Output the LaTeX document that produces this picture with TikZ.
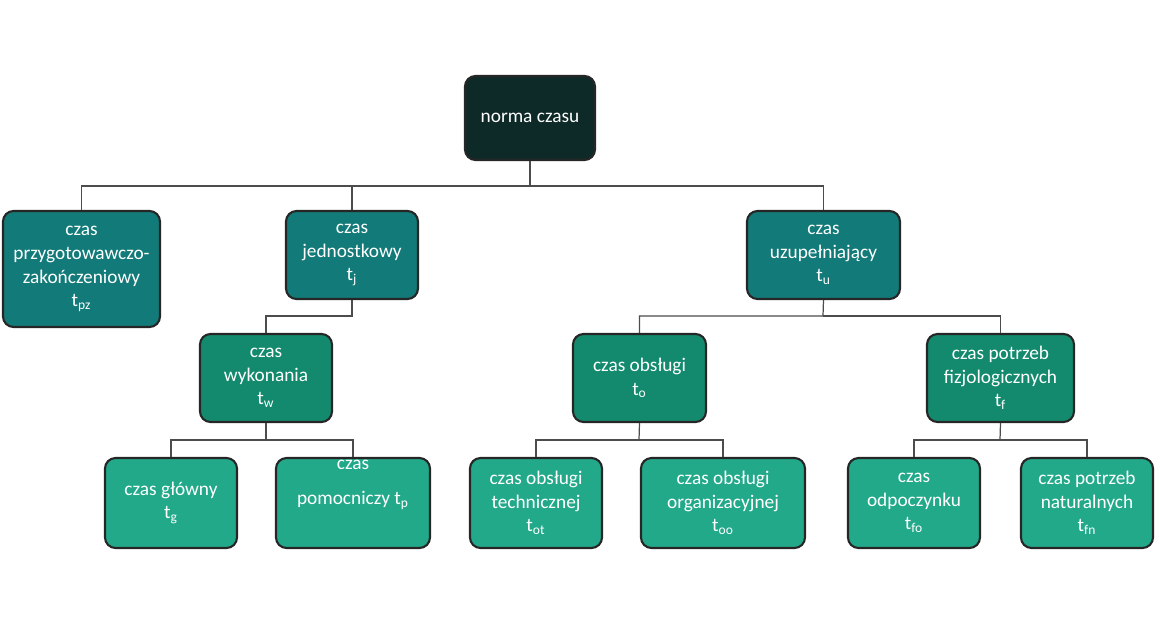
\documentclass[tikz,border=0pt]{standalone}
\usepackage{fontspec}
\setmainfont{Carlito}
\begin{document}
\begin{tikzpicture}[x=0.02cm,y=-0.02cm,
 box/.style={draw=black!85,line width=1.2pt,rounded corners=6pt,text=white,align=center,inner sep=1pt,
   font=\fontsize{11}{13.5}\selectfont},
 l0/.style={box,fill=black!60!teal!70!green!40!black},
 l1/.style={box,fill={rgb,255:red,18;green,122;blue,120}},
 l2/.style={box,fill={rgb,255:red,19;green,138;blue,110}},
 l3/.style={box,fill={rgb,255:red,34;green,169;blue,138}},
 conn/.style={draw=black!70,line width=0.7pt}]
\useasboundingbox (0,0) rectangle (1160,637);
\newcommand{\bx}[7]{\node[#1,minimum width={(#4-#3)*0.02cm},minimum height={(#6-#5)*0.02cm}] (#2) at ({(#3+#4)/2},{(#5+#6)/2}) {#7};}
\bx{l0,fill={rgb,255:red,14;green,42;blue,40}}{n}{465}{595}{76}{160}{norma czasu}
\bx{l1}{pz}{3}{160}{211}{327}{czas\\przygotowawczo-\\zakończeniowy\\t\textsubscript{pz}}
\bx{l1}{j}{286}{418}{211}{299}{czas\\jednostkowy\\t\textsubscript{j}}
\bx{l1}{u}{747}{900}{211}{299}{czas\\uzupełniający\\t\textsubscript{u}}
\bx{l2}{w}{200}{332}{334}{422}{czas\\wykonania\\t\textsubscript{w}}
\bx{l2}{o}{573}{706}{334}{422}{czas obsługi\\t\textsubscript{o}}
\bx{l2}{f}{927}{1074}{334}{422}{czas potrzeb\\fizjologicznych\\t\textsubscript{f}}
\bx{l3}{g}{105}{237}{458}{548}{czas główny\\t\textsubscript{g}}
\bx{l3}{p}{276}{430}{458}{548}{czas\\[6pt]pomocniczy t\textsubscript{p}\\[6pt]\strut}
\bx{l3}{ot}{470}{602}{458}{548}{czas obsługi\\technicznej\\t\textsubscript{ot}}
\bx{l3}{oo}{641}{805}{458}{548}{czas obsługi\\organizacyjnej\\t\textsubscript{oo}}
\bx{l3}{fo}{848}{980}{458}{548}{czas\\odpoczynku\\t\textsubscript{fo}}
\bx{l3}{fn}{1021}{1153}{458}{548}{czas potrzeb\\naturalnych\\t\textsubscript{fn}}
\coordinate (b0) at (530,186);
\coordinate (b1) at (352,316);
\coordinate (b2) at (823,316);
\coordinate (b3) at (266,440);
\coordinate (b4) at (639,440);
\coordinate (b5) at (1000,440);
\draw[conn] (n.south) -- (b0);
\draw[conn] (b0) -| (pz.north); \draw[conn] (b0) -| (j.north); \draw[conn] (b0) -| (u.north);
\draw[conn] (j.south) -- (b1) -| (w.north);
\draw[conn] (u.south) -- (b2) -| (o.north); \draw[conn] (b2) -| (f.north);
\draw[conn] (w.south) -- (b3); \draw[conn] (b3) -| ([xshift=-1.9cm]w.south |- g.north); 
\draw[conn] (b3) -| (g.north); \draw[conn] (b3) -| (p.north);
\draw[conn] (o.south) -- (b4); \draw[conn] (b4) -| (ot.north); \draw[conn] (b4) -| (oo.north);
\draw[conn] (f.south) -- (b5); \draw[conn] (b5) -| (fo.north); \draw[conn] (b5) -| (fn.north);
\end{tikzpicture}
\end{document}
